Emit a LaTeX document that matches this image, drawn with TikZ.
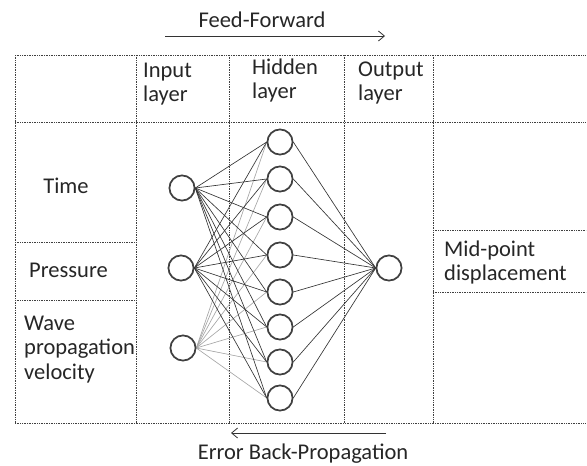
\documentclass[tikz,border=0pt]{standalone}
\usepackage{fontspec}
\setmainfont{Carlito}
\usetikzlibrary{arrows.meta}
\begin{document}
\begin{tikzpicture}[x=1pt,y=-1pt,
  grid/.style={densely dotted,line width=0.7pt,draw=black!75},
  neuron/.style={circle,draw=black!75,line width=1.6pt,minimum size=25pt,inner sep=0pt,fill=white},
  dark/.style={draw=black!80,line width=0.65pt},
  light/.style={draw=black!35,line width=0.65pt},
  lbl/.style={font=\fontsize{22.5}{24.5}\selectfont,text=black!85,inner sep=0pt},
  flow/.style={draw=black!80,line width=0.8pt,-{Straight Barb[length=6pt,width=10pt]}}]
\useasboundingbox (0,0) rectangle (587,466);
% grid
\draw[grid] (15,55) -- (586,55);
\draw[grid] (15,122) -- (586,122);
\draw[grid] (15,423) -- (586,423);
\draw[grid] (15,55) -- (15,423);
\draw[grid] (136,55) -- (136,423);
\draw[grid] (229,55) -- (229,423);
\draw[grid] (344,55) -- (344,423);
\draw[grid] (433,55) -- (433,423);
\draw[grid] (15,242) -- (136,242);
\draw[grid] (15,300) -- (136,300);
\draw[grid] (433,230) -- (586,230);
\draw[grid] (433,292) -- (586,292);
% headers (base anchor = baseline of last line)
\node[lbl,align=left,anchor=base west] (hin) at (143,101.5) {Input\\layer};
\node[lbl,align=left,anchor=base west] (hhid) at (252,98.5) {Hidden\\layer};
\node[lbl,align=left,anchor=base west] (hout) at (358,100.5) {Output\\layer};
\node[lbl,anchor=base] (ttime) at (66,193) {Time};
\node[lbl,anchor=base] (tpress) at (68.5,277) {Pressure};
\node[lbl,align=left,anchor=base west] (twave) at (24,379) {Wave\\propagation\\velocity};
\node[lbl,align=left,anchor=base west] (tmid) at (444,280.5) {Mid-point\\displacement};
% arrows
\node[lbl,anchor=base] (ff) at (262,27) {Feed-Forward};
\coordinate (ffa) at (165,36);
\coordinate (ffb) at (385,36);
\draw[flow] (ffa) -- (ffb);
\node[lbl,anchor=base] (bp) at (303,459) {Error Back-Propagation};
\coordinate (bpa) at (386,433);
\coordinate (bpb) at (231,433);
\draw[flow] (bpa) -- (bpb);
% neurons
\node[neuron] (i1) at (182,188) {};
\node[neuron] (i2) at (181,268) {};
\node[neuron] (i3) at (183,348) {};
\foreach \k/\y in {1/142,2/179,3/217,4/255,5/292,6/327,7/362,8/398}
  \node[neuron] (h\k) at (280,\y) {};
\node[neuron] (o) at (389,268) {};
\foreach \k in {1,...,8} {
  \draw[light] (i3.east) -- (h\k.west);
}
\foreach \k in {1,...,8} {
  \draw[dark] (i1.east) -- (h\k.west);
  \draw[dark] (i2.east) -- (h\k.west);
  \draw[dark] (h\k.east) -- (o.west);
}
\foreach \n in {i1,i2,i3,o,h1,h2,h3,h4,h5,h6,h7,h8}
  \node[neuron] at (\n) {};
\end{tikzpicture}
\end{document}
